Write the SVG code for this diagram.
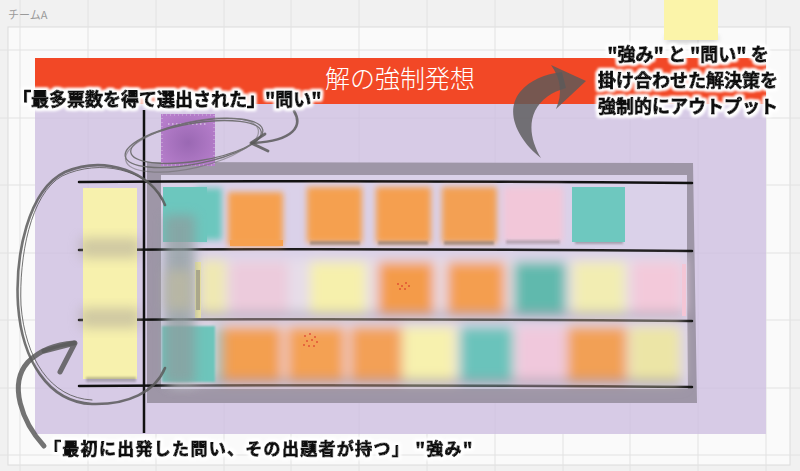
<svg xmlns="http://www.w3.org/2000/svg" width="800" height="471" viewBox="0 0 800 471">
<defs>
<style>
.grid line{stroke:#e2e2e2;stroke-width:1}
.jp{font-family:"Noto Sans CJK JP","Noto Sans",sans-serif;font-weight:700;fill:#111;stroke:#111;stroke-width:1;stroke-linejoin:round}
.hl{stroke:#111;stroke-width:2.5;fill:none;stroke-linecap:round}
.brush{fill:none;stroke:#5a5a5a;stroke-linecap:round;stroke-linejoin:round;opacity:.85}
</style>
<filter id="blur6" x="-50%" y="-50%" width="200%" height="200%"><feGaussianBlur stdDeviation="6"/></filter>
<filter id="blur3" x="-50%" y="-50%" width="200%" height="200%"><feGaussianBlur stdDeviation="3"/></filter>
<filter id="blur1" x="-50%" y="-50%" width="200%" height="200%"><feGaussianBlur stdDeviation="1.2"/></filter>
<filter id="halo" x="-5%" y="-30%" width="110%" height="160%">
<feMorphology in="SourceAlpha" operator="dilate" radius="2" result="d"/>
<feGaussianBlur in="d" stdDeviation="1.5" result="b"/>
<feFlood flood-color="#ffffff"/>
<feComposite in2="b" operator="in" result="w"/>
<feMerge><feMergeNode in="w"/><feMergeNode in="w"/><feMergeNode in="SourceGraphic"/></feMerge>
</filter>
<radialGradient id="pur" cx="50%" cy="55%" r="60%"><stop offset="0" stop-color="#9a68b3"/><stop offset="1" stop-color="#b67ecb"/></radialGradient>
</defs>

<rect width="800" height="471" fill="#f1f1f1"/>
<g id="board">
<rect x="8" y="27" width="782" height="438" fill="#fafafa" stroke="#dcdcdc" stroke-width="1"/>
<g class="grid">
<line x1="20" y1="0" x2="20" y2="471"/><line x1="88" y1="0" x2="88" y2="471"/><line x1="156" y1="0" x2="156" y2="471"/><line x1="224" y1="0" x2="224" y2="471"/><line x1="291" y1="0" x2="291" y2="471"/><line x1="359" y1="0" x2="359" y2="471"/><line x1="427" y1="0" x2="427" y2="471"/><line x1="495" y1="0" x2="495" y2="471"/><line x1="563" y1="0" x2="563" y2="471"/><line x1="630" y1="0" x2="630" y2="471"/><line x1="698" y1="0" x2="698" y2="471"/><line x1="766" y1="0" x2="766" y2="471"/>
<line x1="0" y1="50" x2="800" y2="50"/><line x1="0" y1="118" x2="800" y2="118"/><line x1="0" y1="185" x2="800" y2="185"/><line x1="0" y1="253" x2="800" y2="253"/><line x1="0" y1="320" x2="800" y2="320"/><line x1="0" y1="388" x2="800" y2="388"/><line x1="0" y1="455" x2="800" y2="455"/>
</g>
<text x="8" y="19" font-family="'Noto Sans CJK JP','Noto Sans',sans-serif" font-size="11" fill="#9a9a9a">チームA</text>
</g>

<g id="topSticky">
<rect x="667" y="36" width="50" height="6" fill="#555" opacity=".35" filter="url(#blur3)"/>
<rect x="664" y="0" width="54" height="40" fill="#fbf4a9"/>
</g>

<g id="area">
<rect x="35" y="58" width="731" height="376" fill="#d7cbe6"/>
<g opacity=".35" stroke="#c8bcd8" stroke-width="1">
<line x1="88" y1="104" x2="88" y2="434"/><line x1="224" y1="104" x2="224" y2="434"/><line x1="359" y1="104" x2="359" y2="434"/><line x1="495" y1="104" x2="495" y2="434"/><line x1="630" y1="104" x2="630" y2="434"/><line x1="698" y1="104" x2="698" y2="434"/>
<line x1="35" y1="118" x2="766" y2="118"/><line x1="35" y1="253" x2="766" y2="253"/><line x1="35" y1="388" x2="766" y2="388"/>
</g>
</g>

<g id="banner">
<rect x="35" y="58" width="731" height="46" fill="#f24826"/>
<text x="400" y="88" text-anchor="middle" font-family="'Noto Sans CJK JP','Noto Sans',sans-serif" font-size="25" font-weight="300" fill="#fff">解の強制発想</text>
</g>

<g id="frame">
<path d="M147,162 L693,163 L697,403 L147,403 Z M161,175 L686,175 L688,389 L161,389 Z" fill="#9e96a7" fill-rule="evenodd"/>
<rect x="161" y="175" width="526" height="214" fill="#dad1e9"/>
</g>

<g id="rules">
<path class="hl" d="M79,182 Q380,180 692,183"/>
<path class="hl" d="M79,250 Q380,248 692,251"/>
<path class="hl" d="M79,320 Q380,318 692,321"/>
<path class="hl" d="M79,386 Q380,384 692,387"/>
</g>

<g id="leftColumn">
<rect x="83" y="188" width="54" height="191" fill="#f7f1ad"/>
<rect x="80" y="238" width="60" height="20" fill="#a8a098" opacity=".5" filter="url(#blur6)"/>
<rect x="80" y="308" width="60" height="20" fill="#a8a098" opacity=".5" filter="url(#blur6)"/>
<rect x="86" y="377" width="50" height="5" fill="#555" opacity=".35" filter="url(#blur1)"/>
</g>

<g id="row1">
<g filter="url(#blur3)">
<rect x="228" y="192" width="55" height="54" fill="#f6a04f"/>
<rect x="307" y="187" width="55" height="56" fill="#f5a050"/>
<rect x="376" y="187" width="55" height="56" fill="#f59f4f"/>
<rect x="442" y="187" width="55" height="56" fill="#f3a052"/>
<rect x="503" y="187" width="60" height="55" fill="#f2c7d9"/>
<rect x="196" y="188" width="26" height="52" fill="#6cc7be"/>
</g>
<g filter="url(#blur1)">
<rect x="310" y="241" width="50" height="4" fill="#555" opacity=".4"/>
<rect x="378" y="241" width="50" height="4" fill="#555" opacity=".4"/>
<rect x="444" y="241" width="50" height="4" fill="#555" opacity=".4"/>
<rect x="506" y="240" width="54" height="4" fill="#555" opacity=".3"/>
<rect x="575" y="240" width="48" height="4" fill="#555" opacity=".4"/>
</g>
<rect x="163" y="187" width="44" height="55" fill="#6cc7be"/>
<rect x="230" y="240" width="53" height="6" fill="#f7a14e"/>
<rect x="572" y="187" width="53" height="55" fill="#6ec8bf"/>
</g>

<g id="row2">
<g filter="url(#blur6)">
<rect x="190" y="258" width="495" height="58" fill="#e6dde9"/>
<rect x="200" y="260" width="26" height="54" fill="#efe8b2"/>
<rect x="230" y="262" width="58" height="52" fill="#eccbdc"/>
<rect x="310" y="262" width="56" height="52" fill="#f6f0ac"/>
<rect x="378" y="262" width="56" height="52" fill="#f49b49"/>
<rect x="447" y="262" width="58" height="52" fill="#f49e4f"/>
<rect x="514" y="262" width="52" height="52" fill="#61b9ad"/>
<rect x="573" y="262" width="52" height="52" fill="#f2edb2"/>
<rect x="632" y="262" width="50" height="52" fill="#f3c9da"/>
<rect x="195" y="312" width="490" height="6" fill="#8e8a98" opacity=".6"/>
</g>
<rect x="195" y="262" width="6" height="56" fill="#f2e8a2"/>
<rect x="196" y="270" width="4" height="40" fill="#6d6a66" opacity=".5"/>
<rect x="682" y="264" width="4" height="52" fill="#f4c6d6"/>
<g fill="#d9332a" opacity=".7">
<circle cx="398" cy="284" r="1"/><circle cx="402" cy="286" r="1"/><circle cx="406" cy="283" r="1"/><circle cx="400" cy="289" r="1"/><circle cx="405" cy="289" r="1"/><circle cx="409" cy="286" r="1"/>
</g>
</g>

<g id="row3">
<g filter="url(#blur6)">
<rect x="170" y="325" width="512" height="60" fill="#e8dde6"/>
<rect x="215" y="327" width="12" height="55" fill="#79bfb6"/>
<rect x="222" y="327" width="60" height="55" fill="#f39f50"/>
<rect x="287" y="327" width="58" height="55" fill="#f4a152"/>
<rect x="350" y="327" width="52" height="55" fill="#f3a056"/>
<rect x="403" y="327" width="52" height="55" fill="#f7f1ae"/>
<rect x="460" y="327" width="53" height="55" fill="#6bc3bb"/>
<rect x="517" y="327" width="48" height="55" fill="#f0c8dc"/>
<rect x="567" y="327" width="60" height="55" fill="#f2a055"/>
<rect x="630" y="327" width="50" height="55" fill="#ece5a6"/>
<rect x="195" y="379" width="487" height="7" fill="#8a8490" opacity=".6"/>
</g>
<rect x="162" y="326" width="53" height="56" fill="#6dc5bb" filter="url(#blur1)"/>
<g fill="#d9332a" opacity=".7">
<circle cx="305" cy="336" r="1"/><circle cx="310" cy="334" r="1"/><circle cx="315" cy="337" r="1"/><circle cx="307" cy="341" r="1"/><circle cx="312" cy="340" r="1"/><circle cx="317" cy="342" r="1"/><circle cx="309" cy="346" r="1"/><circle cx="314" cy="346" r="1"/><circle cx="304" cy="345" r="1"/>
</g>
</g>

<g id="strip">
<rect x="164" y="215" width="31" height="170" fill="#8e9c9e" opacity=".75" filter="url(#blur6)"/>
<rect x="166" y="270" width="26" height="40" fill="#c7bf9c" opacity=".6" filter="url(#blur6)"/>
</g>

<g id="questionSticky">
<rect x="161" y="114" width="54" height="52" fill="url(#pur)"/>
<line x1="168" y1="124" x2="208" y2="124" stroke="#fff" stroke-width="1" stroke-dasharray="1.5 2.5" opacity=".8"/>
<rect x="162" y="115" width="52" height="50" fill="none" stroke="#fff" stroke-width=".8" stroke-dasharray="1 3" opacity=".6"/>
</g>

<line id="axis" x1="144" y1="110" x2="144" y2="433" stroke="#111" stroke-width="2.5"/>

<g id="connectors">
<g fill="none" stroke="#6a6a6a" stroke-width="1.3" opacity=".9">
<ellipse cx="194" cy="143" rx="70" ry="21" transform="rotate(-11 194 143)"/>
<ellipse cx="196" cy="142" rx="66" ry="19" transform="rotate(-9 196 142)"/>
<ellipse cx="192" cy="145" rx="68" ry="23" transform="rotate(-13 192 145)" opacity=".6"/>
</g>
<path class="brush" stroke-width="2.6" d="M294,111 C303,126 294,141 252,143"/>
<path class="brush" stroke-width="2.8" d="M265,134 L251,143 L268,151"/>

<path class="brush" stroke-width="2.6" d="M165,205 C152,172 105,155 65,172 C28,190 15,255 18,305 C22,360 48,402 92,404 C128,405 155,392 165,368"/>
<path class="brush" stroke-width="1" d="M162,200 C148,170 100,158 62,176 C30,194 19,258 21,305 C25,358 50,398 92,400" opacity=".5"/>

<path class="brush" stroke-width="5" d="M44,446 C22,422 8,384 28,362 C42,348 58,344 74,343"/>
<path class="brush" stroke-width="5" d="M44,351 L75,343 L60,372"/>

<path fill="#5a5a5a" opacity=".82" d="M541,158 C518,140 504,112 520,92 C530,80 545,74 562,72 L566,88 C552,92 541,99 535,111 C528,126 532,143 541,158 Z"/>
<path fill="#5a5a5a" opacity=".82" d="M551,65 L586,81 L556,109 Q566,86 551,65 Z"/>
</g>

<g id="labels" filter="url(#halo)">
<text class="jp" x="13" y="106" font-size="18">「最多票数を得て選出された」"問い"</text>
<text class="jp" x="44" y="455" font-size="17" letter-spacing="1.3">「最初に出発した問い、その出題者が持つ」 "強み"</text>
<text class="jp" x="688" y="61" font-size="18" text-anchor="middle">"強み" と "問い" を</text>
<text class="jp" x="688" y="87" font-size="18" text-anchor="middle">掛け合わせた解決策を</text>
<text class="jp" x="688" y="113" font-size="18" text-anchor="middle">強制的にアウトプット</text>
</g>
</svg>
